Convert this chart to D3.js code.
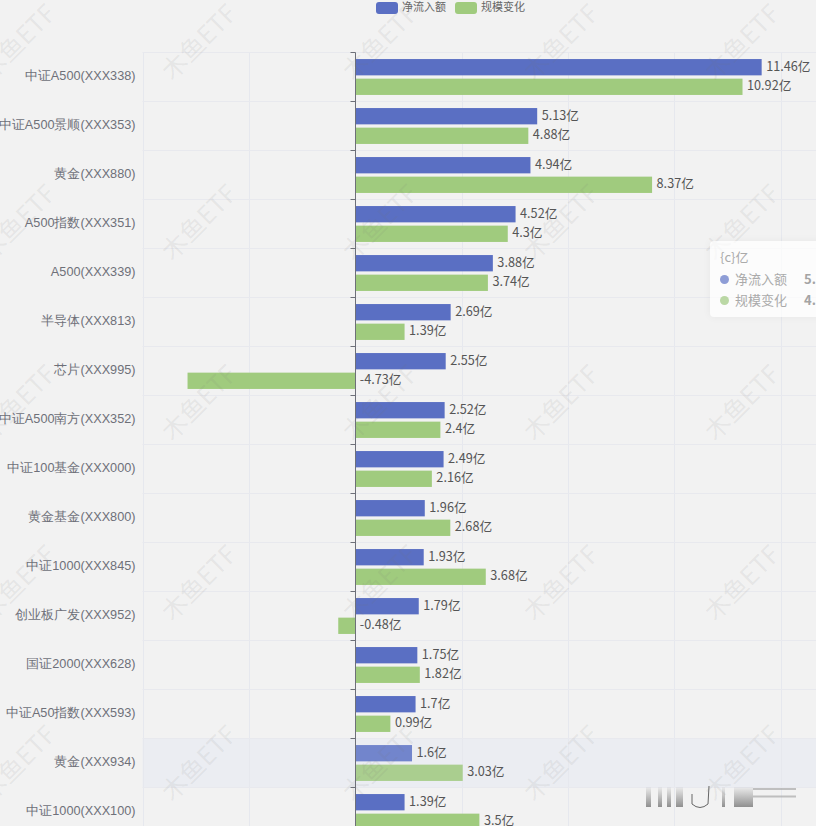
<!DOCTYPE html>
<html>
<head>
<meta charset="utf-8">
<script src="https://cdnjs.cloudflare.com/ajax/libs/d3/7.8.5/d3.min.js"></script>
<style>
html, body { margin: 0; padding: 0; overflow: hidden; background: #f2f2f2; }
#chart { position: relative; width: 816px; height: 826px; overflow: hidden; font-family: "Noto Sans CJK SC", "Noto Sans", sans-serif; }
svg { position: absolute; left: 0; top: 0; }
#tooltip { position: absolute; left: 710px; top: 241px; width: 160px; height: 76px; background: rgba(255,255,255,0.72); border-radius: 4px; box-shadow: 0 0 8px rgba(0,0,0,0.05); font-size: 13px; color: #aaa; }
#tooltip .row { position: absolute; left: 10px; white-space: nowrap; line-height: 16px; }
#tooltip .dot { display: inline-block; width: 9px; height: 9px; border-radius: 50%; margin-right: 6px; }
#tooltip b { position: absolute; left: 84px; color: #a4a4a4; }
</style>
</head>
<body>
<div id="chart"></div>
<script>
const categories = ["中证A500(XXX338)", "中证A500景顺(XXX353)", "黄金(XXX880)", "A500指数(XXX351)",
    "A500(XXX339)", "半导体(XXX813)", "芯片(XXX995)", "中证A500南方(XXX352)", "中证100基金(XXX000)",
    "黄金基金(XXX800)", "中证1000(XXX845)", "创业板广发(XXX952)", "国证2000(XXX628)",
    "中证A50指数(XXX593)", "黄金(XXX934)", "中证1000(XXX100)"];
const netInflow = [11.46, 5.13, 4.94, 4.52, 3.88, 2.69, 2.55, 2.52, 2.49, 1.96, 1.93, 1.79, 1.75, 1.7, 1.6, 1.39];
const sizeChange = [10.92, 4.88, 8.37, 4.3, 3.74, 1.39, -4.73, 2.4, 2.16, 2.68, 3.68, -0.48, 1.82, 0.99, 3.03, 3.5];
const xTicks = [-6, -3, 0, 3, 6, 9, 12, 15];
const seriesNames = ["净流入额", "规模变化"];
const seriesColors = ["#5a6fc3", "#a0cb7e"];
const hoverColors = ["#7285cc", "#aace8f"];
const hoverIndex = 14;

const width = 816, height = 826;
const chart = d3.select("#chart");
const svg = chart.append("svg").attr("width", width).attr("height", height);

const x = d3.scaleLinear().domain([-6, 15]).range([142.5, 887.2]);
const y = d3.scaleBand().domain(categories).range([52.5, 836.5]);
const yInner = d3.scaleBand().domain(seriesNames).range([0, y.bandwidth()]).paddingInner(0.168).paddingOuter(0.334);

// hover band
svg.append("rect")
    .attr("x", x(-6)).attr("y", y(categories[hoverIndex]))
    .attr("width", width - x(-6)).attr("height", y.bandwidth())
    .attr("fill", "#ebedf2");

// grid
svg.append("g").selectAll("line")
    .data(xTicks)
    .join("line")
    .attr("x1", d => Math.round(x(d)) + 0.5).attr("x2", d => Math.round(x(d)) + 0.5)
    .attr("y1", 52.5).attr("y2", height)
    .attr("stroke", "#e6e8ee");

svg.append("g").selectAll("line")
    .data(categories)
    .join("line")
    .attr("x1", x(-6)).attr("x2", width)
    .attr("y1", d => y(d)).attr("y2", d => y(d))
    .attr("stroke", "#e8e9ee");

// bars
const rows = categories.map((c, i) => ({ c, i, values: [netInflow[i], sizeChange[i]] }));
const cells = rows.flatMap(r => r.values.map((v, s) => ({ c: r.c, i: r.i, s, v })));

svg.append("g").selectAll("rect")
    .data(cells)
    .join("rect")
    .attr("x", d => x(Math.min(0, d.v)))
    .attr("y", d => y(d.c) + yInner(seriesNames[d.s]))
    .attr("width", d => Math.abs(x(d.v) - x(0)))
    .attr("height", yInner.bandwidth())
    .attr("fill", d => d.i === hoverIndex ? hoverColors[d.s] : seriesColors[d.s]);

svg.append("g").selectAll("text")
    .data(cells)
    .join("text")
    .attr("x", d => x(Math.max(0, d.v)) + 4.5)
    .attr("y", d => y(d.c) + yInner(seriesNames[d.s]) + yInner.bandwidth() / 2 - 1)
    .attr("dy", "0.36em")
    .attr("font-size", 12.7)
    .attr("fill", "#555")
    .text(d => d.v + "亿");

// category axis: labels sit left of the grid, line sits on zero
const yAxis = svg.append("g")
    .attr("transform", `translate(${x(-6)},-1)`)
    .call(d3.axisLeft(y).tickSize(0).tickPadding(7));
yAxis.select(".domain").remove();
yAxis.selectAll("text").attr("font-size", 12.7).attr("font-family", "inherit").attr("fill", "#6e7079");

const zeroX = Math.round(x(0)) + 0.5;
svg.append("line")
    .attr("x1", zeroX).attr("x2", zeroX).attr("y1", 52.5).attr("y2", height)
    .attr("stroke", "#6e7079");
svg.append("g").selectAll("line")
    .data(categories)
    .join("line")
    .attr("x1", zeroX - 5).attr("x2", zeroX)
    .attr("y1", d => y(d)).attr("y2", d => y(d))
    .attr("stroke", "#6e7079");

// legend
const legendX = [376, 455];
const legend = svg.append("g").selectAll("g")
    .data(seriesNames)
    .join("g")
    .attr("transform", (d, i) => `translate(${legendX[i]},2)`);
legend.append("rect")
    .attr("width", 22).attr("height", 12).attr("rx", 3)
    .attr("fill", (d, i) => seriesColors[i]);
legend.append("text")
    .attr("x", 26).attr("y", 5.5).attr("dy", "0.36em")
    .attr("font-size", 11).attr("fill", "#666")
    .text(d => d);

// repeating watermark
const wmCols = d3.range(-1, 5), wmRows = d3.range(0, 5);
const wm = svg.append("g");
wmRows.forEach(r => wmCols.forEach(c => {
    wm.append("text")
        .attr("transform", `translate(${18 + c * 181},${42 + r * 180.3}) rotate(-45)`)
        .attr("text-anchor", "middle")
        .attr("dy", "0.36em")
        .attr("font-size", 25)
        .attr("fill", "rgba(120,120,120,0.11)")
        .text("木鱼ETF");
}));

// blurred site stamp, bottom right
const stamp = svg.append("g");
const fade = svg.append("defs").append("linearGradient").attr("id", "fade")
    .attr("x1", 0).attr("x2", 0).attr("y1", 0).attr("y2", 1);
fade.append("stop").attr("offset", 0).attr("stop-color", "#777").attr("stop-opacity", 0.05);
fade.append("stop").attr("offset", 1).attr("stop-color", "#777").attr("stop-opacity", 0.8);
[[646, 5], [658, 4], [667, 4], [676, 7], [722, 3], [734, 19]].forEach(([bx, bw]) => {
    stamp.append("rect").attr("x", bx).attr("y", 787).attr("width", bw).attr("height", 20).attr("fill", "url(#fade)");
});
stamp.append("path").attr("d", "M692 794 L692 804 Q700 811 708 804 L709 786").attr("fill", "none").attr("stroke", "#666").attr("stroke-width", 1);
[789, 796.5].forEach(ly => {
    stamp.append("line").attr("x1", 753).attr("x2", 796).attr("y1", ly).attr("y2", ly).attr("stroke", "#aaa").attr("stroke-width", 2).attr("opacity", 0.7);
});

// tooltip stuck at the right edge
const tip = chart.append("div").attr("id", "tooltip");
tip.append("div").attr("class", "row").style("top", "8px").text("{c}亿");
seriesNames.forEach((name, i) => {
    const row = tip.append("div").attr("class", "row").style("top", (30 + i * 21) + "px");
    row.append("span").attr("class", "dot").style("background", hoverColors[i]).style("opacity", 0.8);
    row.append("span").text(name);
    row.append("b").text([netInflow[1], sizeChange[1]][i]);
});
</script>
</body>
</html>
